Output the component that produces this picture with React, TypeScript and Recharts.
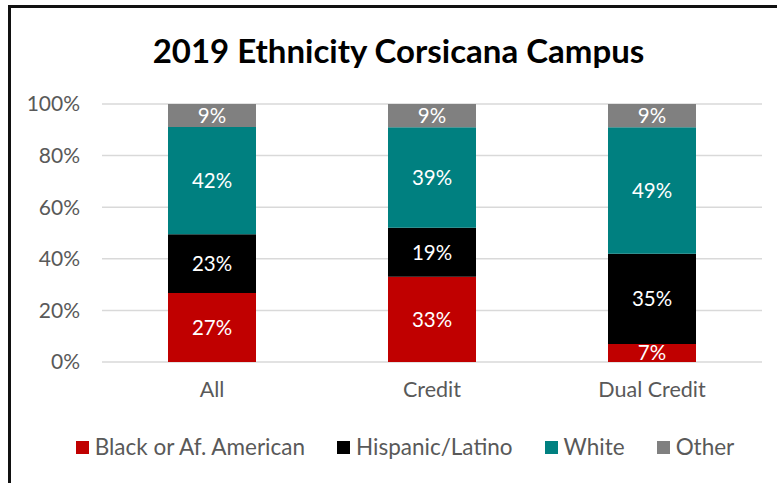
import { Bar, BarChart, CartesianGrid, LabelList, XAxis, YAxis } from "recharts";

const CATEGORIES = ["All", "Credit", "Dual Credit"];
const BLACK = [27, 33, 7];
const HISPANIC = [23, 19, 35];
const WHITE = [42, 39, 49];
const OTHER = [9, 9, 9];
const Y_TICKS = [0, 0.2, 0.4, 0.6, 0.8, 1];

const SERIES = [
  { key: "black", name: "Black or Af. American", color: "#C00000" },
  { key: "hispanic", name: "Hispanic/Latino", color: "#000000" },
  { key: "white", name: "White", color: "#008080" },
  { key: "other", name: "Other", color: "#808080" },
];

const FONT = "Lato, 'Open Sans', sans-serif";

const data = CATEGORIES.map((name, i) => ({
  name,
  black: BLACK[i],
  hispanic: HISPANIC[i],
  white: WHITE[i],
  other: OTHER[i],
}));

export default function App() {
  return (
    <div
      style={{
        position: "fixed",
        left: 0,
        top: 0,
        width: 777,
        height: 483,
        overflow: "hidden",
        background: "#fff",
        fontFamily: FONT,
      }}
    >
      {/* frame, clipped on the right and bottom like the original screenshot */}
      <div
        style={{
          position: "absolute",
          left: 8,
          top: 5,
          width: 820,
          height: 540,
          border: "3px solid #111",
        }}
      />
      <div
        style={{
          position: "absolute",
          left: 0,
          top: 28,
          width: 797,
          textAlign: "center",
          fontSize: 33,
          fontWeight: 700,
          color: "#000",
          lineHeight: "44px",
        }}
      >
        2019 Ethnicity Corsicana Campus
      </div>
      <div style={{ position: "absolute", left: 0, top: 0 }}>
        <BarChart
          width={777}
          height={483}
          data={data}
          stackOffset="expand"
          barCategoryGap="30%"
          margin={{ top: 104, right: 15, bottom: 81, left: 0 }}
        >
          <CartesianGrid vertical={false} stroke="#D9D9D9" strokeWidth={1.5} />
          <XAxis
            dataKey="name"
            axisLine={false}
            tickLine={false}
            tickSize={0}
            tickMargin={20}
            height={40}
            tick={{ fill: "#595959", fontSize: 21.5, fontFamily: FONT }}
          />
          <YAxis
            domain={[0, 1]}
            ticks={Y_TICKS}
            width={102}
            axisLine={false}
            tickLine={false}
            tickSize={0}
            tickMargin={22}
            tickFormatter={(v: number) => `${Math.round(v * 100)}%`}
            tick={{ fill: "#595959", fontSize: 21, fontFamily: FONT }}
          />
          {SERIES.map((s) => (
            <Bar key={s.key} dataKey={s.key} name={s.name} stackId="a" fill={s.color} isAnimationActive={false}>
              <LabelList
                dataKey={s.key}
                position="center"
                formatter={(v: number) => `${v}%`}
                fill="#fff"
                fontSize={20.5}
                fontFamily={FONT}
              />
            </Bar>
          ))}
        </BarChart>
      </div>
      <div
        style={{
          position: "absolute",
          left: 0,
          top: 433,
          width: 810,
          display: "flex",
          justifyContent: "center",
          gap: 32,
          fontSize: 22.5,
          color: "#595959",
          lineHeight: "28px",
        }}
      >
        {SERIES.map((s) => (
          <div key={s.key} style={{ display: "flex", alignItems: "center" }}>
            <span style={{ width: 13, height: 13, background: s.color, marginRight: 6, display: "inline-block" }} />
            <span>{s.name}</span>
          </div>
        ))}
      </div>
    </div>
  );
}
